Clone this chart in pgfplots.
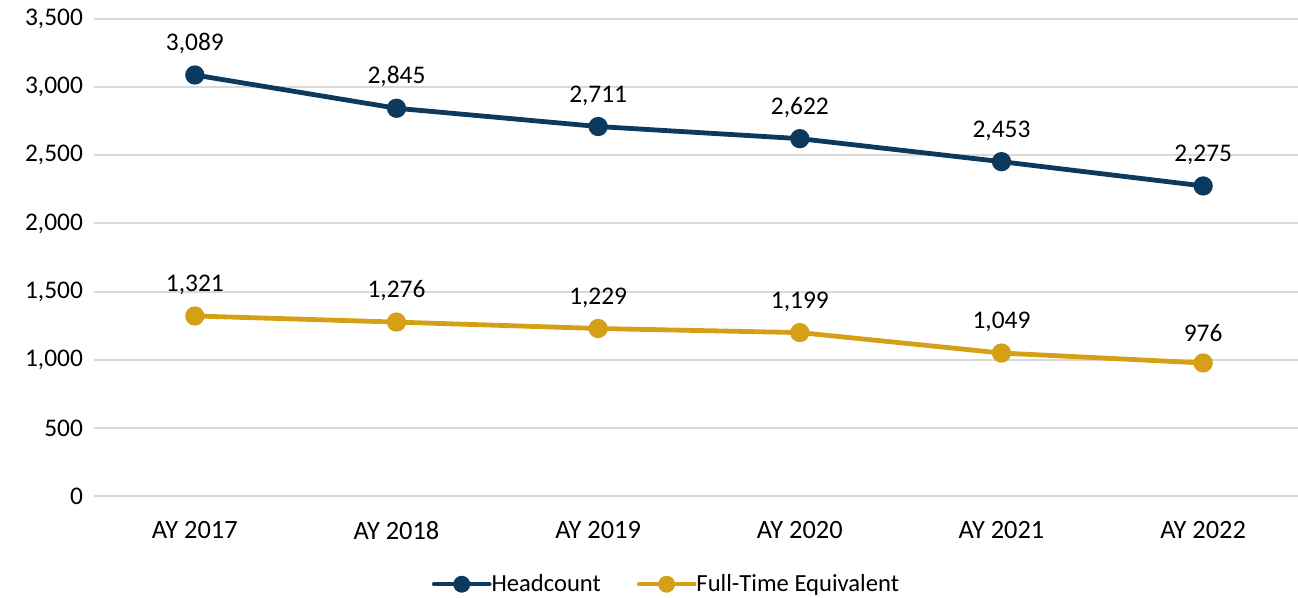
\documentclass[border=0pt]{standalone}
\usepackage{pgfplots}
\pgfplotsset{compat=1.18}
\usepackage{fontspec}
\setmainfont{Carlito}
\definecolor{navy}{RGB}{12,57,94}
\definecolor{gold}{RGB}{214,160,22}
\definecolor{gridgray}{RGB}{217,217,217}
\begin{document}
\begin{tikzpicture}
\useasboundingbox (-47pt,-51pt) rectangle (602pt,248pt);
\begin{axis}[
    scale only axis,
    width=605pt, height=238.5pt,
    xmin=-0.5, xmax=5.5,
    ymin=0, ymax=3500,
    ytick={0,500,...,3500},
    xtick={0,...,5},
    xticklabels={AY 2017, AY 2018, AY 2019, AY 2020, AY 2021, AY 2022},
    axis line style={draw=none},
    major tick length=0pt,
    ymajorgrids=true,
    grid style={gridgray, line width=1pt},
    yticklabel style={font=\fontsize{12.7}{15}\selectfont, xshift=-2pt},
    xticklabel style={font=\fontsize{13.2}{15}\selectfont, yshift=-9pt},
    /pgf/number format/assume math mode=true,
    /pgf/number format/.cd, 1000 sep={,},
    /pgfplots/.cd,
    nodes near coords,
    every node near coord/.append style={font=\fontsize{12.7}{15}\selectfont, black, yshift=6pt},
    legend style={at={(0.474,-0.185)}, anchor=center, draw=none,
        legend columns=2, font=\fontsize{12.3}{14}\selectfont,
        inner sep=0pt,
        /tikz/every odd column/.append style={column sep=-2pt},
        /tikz/every even column/.append style={column sep=16pt}},
    legend image code/.code={
        \draw[#1, line width=1.8pt, line cap=round] (0pt,0pt) -- (28pt,0pt);
        \fill[#1] (14pt,0pt) circle (3pt);
    },
    clip=false,
]
\addplot[navy, line width=2.4pt, mark=*, mark size=3.6pt, mark options={fill=navy}]
coordinates {(0,3089) (1,2845) (2,2711) (3,2622) (4,2453) (5,2275)};
\addlegendentry{Headcount}
\addplot[gold, line width=2.4pt, mark=*, mark size=3.6pt, mark options={fill=gold}]
coordinates {(0,1321) (1,1276) (2,1229) (3,1199) (4,1049) (5,976)};
\addlegendentry{Full-Time Equivalent}
\end{axis}
\end{tikzpicture}
\end{document}
